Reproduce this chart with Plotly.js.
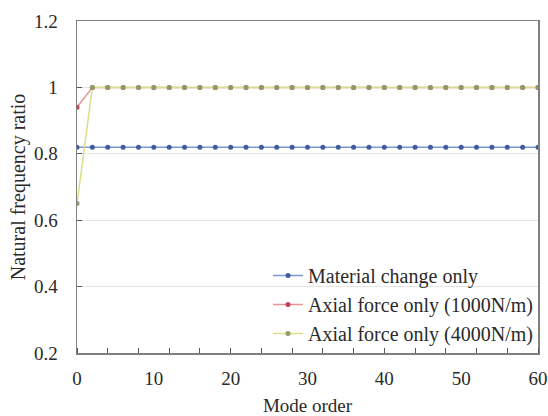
<!DOCTYPE html>
<html>
<head>
<meta charset="utf-8">
<script src="https://cdn.plot.ly/plotly-3.0.1.min.js"></script>
<style>html,body{margin:0;padding:0;background:#fff;}#chart{width:548px;height:416px;}</style>
</head>
<body>
<div id="chart"></div>
<script>
// Mode order positions (every 2nd mode plotted)
const modeOrder = [0,2,4,6,8,10,12,14,16,18,20,22,24,26,28,30,32,34,36,38,40,42,44,46,48,50,52,54,56,58,60];
const materialOnly = [0.82,0.82,0.82,0.82,0.82,0.82,0.82,0.82,0.82,0.82,0.82,0.82,0.82,0.82,0.82,0.82,0.82,0.82,0.82,0.82,0.82,0.82,0.82,0.82,0.82,0.82,0.82,0.82,0.82,0.82,0.82];
const axial1000 = [0.94,1,1,1,1,1,1,1,1,1,1,1,1,1,1,1,1,1,1,1,1,1,1,1,1,1,1,1,1,1,1];
const axial4000 = [0.65,1,1,1,1,1,1,1,1,1,1,1,1,1,1,1,1,1,1,1,1,1,1,1,1,1,1,1,1,1,1];
const seriesNames = ["Material change only","Axial force only (1000N/m)","Axial force only (4000N/m)"];
const xTickVals = [0,10,20,30,40,50,60];
const yTickVals = [0.2,0.4,0.6,0.8,1,1.2];

const font = {family: "Liberation Serif, Times New Roman, serif", color: "#2a2a2a"};
const fs = 19;

const traces = [
  {x: modeOrder, y: materialOnly, name: seriesNames[0], mode: "lines+markers",
   line: {color: "#7b97d4", width: 1.5}, marker: {color: "#3f5d9e", size: 5}},
  {x: modeOrder, y: axial1000, name: seriesNames[1], mode: "lines+markers",
   line: {color: "#e69494", width: 1.5}, marker: {color: "#c8405a", size: 5}},
  {x: modeOrder, y: axial4000, name: seriesNames[2], mode: "lines+markers",
   line: {color: "#dcdc8a", width: 1.5}, marker: {color: "#8f9c6a", size: 5}}
];

const layout = {
  width: 548, height: 416,
  margin: {l: 77, r: 10, t: 21, b: 63},
  paper_bgcolor: "#fff", plot_bgcolor: "#fff",
  font: Object.assign({size: fs}, font),
  showlegend: true,
  legend: {x: 1.0, xanchor: "right", y: 0.0, yanchor: "bottom",
           bgcolor: "rgba(255,255,255,0)", font: Object.assign({size: 20}, font),
           tracegroupgap: 0, itemwidth: 30},
  xaxis: {
    range: [0, 60], tickvals: xTickVals, ticks: "",
    showgrid: false, zeroline: false,
    showline: true, linecolor: "#808080", linewidth: 1.5, mirror: true,
    minor: {dtick: 4, tick0: 0, ticks: "inside", ticklen: 5, tickcolor: "#555", showgrid: false},
    tickfont: Object.assign({size: fs}, font), ticklabelstandoff: 8,
    title: {text: "Mode order", font: Object.assign({size: fs}, font), standoff: 10}
  },
  yaxis: {
    range: [0.2, 1.2], tickvals: yTickVals, ticks: "inside", ticklen: 5, tickcolor: "#555",
    showgrid: true, gridcolor: "#e4e4e4", gridwidth: 1, zeroline: false,
    showline: true, linecolor: "#808080", linewidth: 1.5, mirror: true,
    tickfont: Object.assign({size: fs}, font), ticklabelstandoff: 14,
    title: {text: "Natural frequency ratio", font: Object.assign({size: 20}, font), standoff: 3}
  }
};

Plotly.newPlot("chart", traces, layout, {displayModeBar: false, staticPlot: true});
</script>
</body>
</html>
